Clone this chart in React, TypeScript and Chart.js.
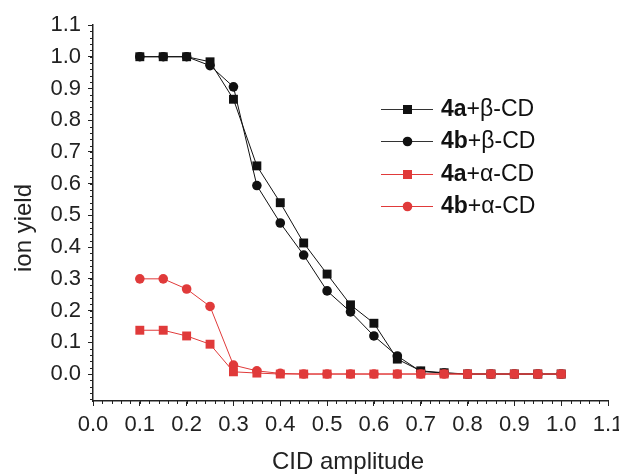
import React, { useEffect, useRef } from "react";
import { Chart, registerables } from "chart.js";

Chart.register(...registerables);

const amplitudes = [0.1, 0.15, 0.2, 0.25, 0.3, 0.35, 0.4, 0.45, 0.5, 0.55, 0.6, 0.65, 0.7, 0.75, 0.8, 0.85, 0.9, 0.95, 1.0];
const yield4aBeta = [1.0, 1.0, 1.0, 0.984, 0.866, 0.656, 0.54, 0.413, 0.315, 0.218, 0.16, 0.047, 0.01, 0.004, 0, 0, 0, 0, 0];
const yield4bBeta = [1.0, 1.0, 1.0, 0.972, 0.905, 0.594, 0.476, 0.375, 0.262, 0.196, 0.12, 0.057, 0.008, 0.003, 0, 0, 0, 0, 0];
const yield4aAlpha = [0.138, 0.138, 0.12, 0.094, 0.007, 0.003, 0, 0, 0, 0, 0, 0, 0, 0, 0, 0, 0, 0, 0];
const yield4bAlpha = [0.3, 0.3, 0.268, 0.213, 0.028, 0.01, 0.002, 0, 0, 0, 0, 0, 0, 0, 0, 0, 0, 0, 0];

const xTicks = [0, 0.1, 0.2, 0.3, 0.4, 0.5, 0.6, 0.7, 0.8, 0.9, 1.0, 1.1];
const yTicks = [0, 0.1, 0.2, 0.3, 0.4, 0.5, 0.6, 0.7, 0.8, 0.9, 1.0, 1.1];

const legendBold = ["4a", "4b", "4a", "4b"];
const legendRest = ["+\u03B2-CD", "+\u03B2-CD", "+\u03B1-CD", "+\u03B1-CD"];

const BLACK = "#111111";
const RED = "#e03a3a";
const FONT = "'Liberation Sans', Arial, Helvetica, sans-serif";

const toPts = (ys: number[]) => amplitudes.map((x, i) => ({ x, y: ys[i] }));

const extrasPlugin = {
  id: "extras",
  afterDraw(chart: any) {
    const ctx = chart.ctx;
    const xs = chart.scales.x;
    const ys = chart.scales.y;
    const area = chart.chartArea;
    ctx.save();
    // minor ticks
    ctx.strokeStyle = "#222";
    ctx.lineWidth = 1;
    for (let v = 0; v <= 1.1001; v += 0.02) {
      const px = Math.round(xs.getPixelForValue(v)) + 0.5;
      ctx.beginPath();
      ctx.moveTo(px, area.bottom);
      ctx.lineTo(px, area.bottom + 3);
      ctx.stroke();
    }
    for (let v = -0.08; v <= 1.1001; v += 0.02) {
      const py = Math.round(ys.getPixelForValue(v)) + 0.5;
      ctx.beginPath();
      ctx.moveTo(area.left, py);
      ctx.lineTo(area.left - 3, py);
      ctx.stroke();
    }
    // axis titles
    ctx.fillStyle = "#222";
    ctx.font = `24px ${FONT}`;
    ctx.textAlign = "center";
    ctx.textBaseline = "middle";
    ctx.fillText("CID amplitude", 348, 462);
    ctx.save();
    ctx.translate(24, 228);
    ctx.rotate(-Math.PI / 2);
    ctx.fillText("ion yield", 0, 0);
    ctx.restore();

    // legend
    const rows = [109, 141, 174, 206];
    const colors = [BLACK, BLACK, RED, RED];
    const shapes = ["rect", "circle", "rect", "circle"];
    for (let i = 0; i < 4; i++) {
      const y = rows[i];
      ctx.strokeStyle = colors[i] === BLACK ? "#333" : RED;
      ctx.lineWidth = 1;
      ctx.beginPath();
      ctx.moveTo(381, y + 0.5);
      ctx.lineTo(433, y + 0.5);
      ctx.stroke();
      ctx.fillStyle = colors[i];
      if (shapes[i] === "rect") {
        ctx.fillRect(403, y - 4, 9, 9);
      } else {
        ctx.beginPath();
        ctx.arc(407.5, y + 0.5, 4.8, 0, Math.PI * 2);
        ctx.fill();
      }
      ctx.fillStyle = "#111";
      ctx.textAlign = "left";
      ctx.textBaseline = "middle";
      ctx.font = `bold 23px ${FONT}`;
      ctx.fillText(legendBold[i], 441, y + 1);
      const w = ctx.measureText(legendBold[i]).width;
      ctx.font = `23px ${FONT}`;
      ctx.fillText(legendRest[i], 441 + w, y + 1);
    }
    ctx.restore();
  },
};

export default function App() {
  const ref = useRef<HTMLCanvasElement | null>(null);
  useEffect(() => {
    if (!ref.current) return;
    const ds = (label: string, ys: number[], color: string, style: string, radius: number, order: number) => ({
      label,
      data: toPts(ys),
      borderColor: color,
      backgroundColor: color,
      pointBackgroundColor: color,
      pointBorderColor: color,
      borderWidth: 1,
      pointStyle: style,
      pointRadius: radius,
      pointBorderWidth: 0,
      showLine: true,
      tension: 0,
      order,
    });
    const chart = new Chart(ref.current, {
      type: "scatter",
      data: {
        datasets: [
          ds("4a+\u03B1-CD", yield4aAlpha, RED, "rect", 6.3, 0),
          ds("4b+\u03B1-CD", yield4bAlpha, RED, "circle", 4.8, 1),
          ds("4a+\u03B2-CD", yield4aBeta, BLACK, "rect", 6.3, 2),
          ds("4b+\u03B2-CD", yield4bBeta, BLACK, "circle", 4.8, 3),
        ] as any,
      },
      options: {
        responsive: false,
        animation: false,
        layout: { padding: { top: 25, right: 11, left: 0, bottom: 0 } },
        plugins: { legend: { display: false }, tooltip: { enabled: false } },
        scales: {
          x: {
            type: "linear",
            min: 0,
            max: 1.1,
            afterBuildTicks: (s: any) => {
              s.ticks = xTicks.map((v) => ({ value: v }));
            },
            afterFit: (s: any) => {
              s.height = 74;
              s.paddingLeft = 0;
              s.paddingRight = 0;
            },
            ticks: {
              autoSkip: false,
              maxRotation: 0,
              padding: 6,
              color: "#222",
              font: { family: FONT, size: 22 },
              callback: (v: any) => Number(v).toFixed(1),
            },
            grid: { display: true, drawOnChartArea: false, drawTicks: true, tickLength: 5, color: "#222", lineWidth: 1 },
            border: { display: true, color: "#222", width: 1.5 },
          },
          y: {
            type: "linear",
            min: -0.085,
            max: 1.1,
            afterBuildTicks: (s: any) => {
              s.ticks = yTicks.map((v) => ({ value: v }));
            },
            afterFit: (s: any) => {
              s.width = 93;
            },
            ticks: {
              autoSkip: false,
              padding: 7,
              color: "#222",
              font: { family: FONT, size: 22 },
              callback: (v: any) => Number(v).toFixed(1),
            },
            grid: { display: true, drawOnChartArea: false, drawTicks: true, tickLength: 5, color: "#222", lineWidth: 1 },
            border: { display: true, color: "#222", width: 1.5 },
          },
        },
      },
      plugins: [extrasPlugin],
    });
    return () => chart.destroy();
  }, []);
  return (
    <div style={{ position: "fixed", left: 0, top: 0, width: 619, height: 475, background: "#fff" }}>
      <canvas ref={ref} width={619} height={475} />
    </div>
  );
}
